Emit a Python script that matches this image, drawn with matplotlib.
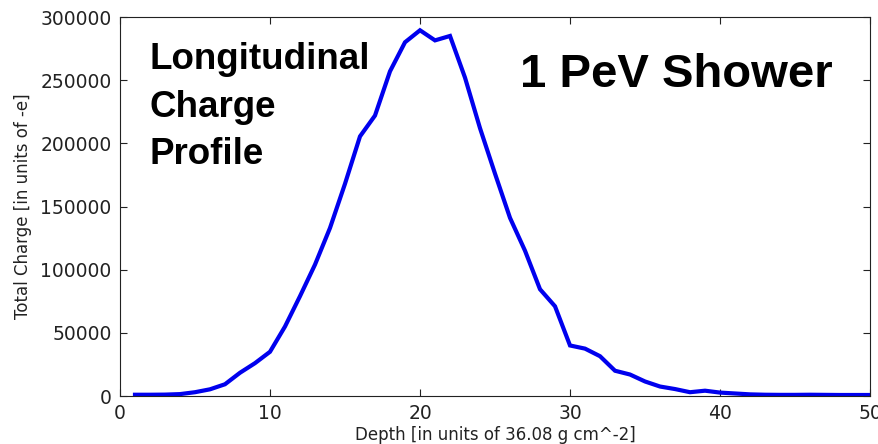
import numpy as np
from matplotlib import pyplot as plt


# longitudinal charge profile of a 1 PeV shower, one value per depth step
depth = np.arange(1, 51)
charge = [
    1000, 1000, 1100, 1500, 3000, 5300, 9300, 18400, 26000, 35000,
    55000, 79000, 104000, 133000, 168000, 205500, 222000, 257000, 280000, 289500,
    281500, 285000, 252000, 212000, 176000, 141000, 115000, 84500, 71000, 40000,
    37500, 31500, 20000, 17000, 11500, 7500, 5500, 3000, 4200, 2700,
    2000, 1300, 1000, 900, 900, 1000, 900, 800, 800, 800,
]

x_ticks = list(range(0, 51, 10))
y_ticks = list(range(0, 300001, 50000))

fig = plt.figure(figsize=(8.79, 4.44), dpi=100)
ax = fig.add_axes([0.1365, 0.1081, 0.8533, 0.8536])

ax.plot(depth, charge, color='#0000ee', linewidth=3, solid_joinstyle='miter')

ax.set_xlim(0, 50)
ax.set_ylim(0, 300000)
ax.set_xticks(x_ticks)
ax.set_yticks(y_ticks)
ax.tick_params(direction='in', top=True, right=True, length=5, width=0.8,
               labelsize=13.5, pad=6, colors='#222222')
for spine in ax.spines.values():
    spine.set_color('#222222')

ax.set_xlabel('Depth [in units of 36.08 g cm^-2]', fontsize=12, labelpad=2, color='#222222')
ax.set_ylabel('Total Charge [in units of -e]', fontsize=12, labelpad=6, color='#222222')

ax.text(0.04, 0.934, 'Longitudinal\nCharge\nProfile', transform=ax.transAxes,
        family='Liberation Sans', fontweight='bold', fontsize=26.5,
        va='top', ha='left', linespacing=1.47)
ax.text(0.533, 0.905, '1 PeV Shower', transform=ax.transAxes,
        family='Liberation Sans', fontweight='bold', fontsize=34,
        va='top', ha='left')

fig.savefig('out.png', dpi=100)
